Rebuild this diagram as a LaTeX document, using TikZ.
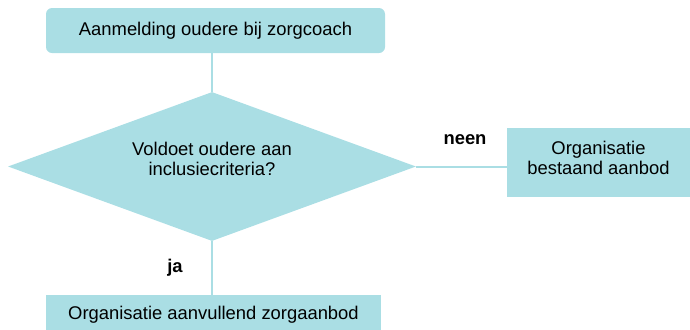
\documentclass[tikz,border=0pt]{standalone}
\usepackage{fontspec}
\setmainfont{Liberation Sans}
\usetikzlibrary{shapes.geometric}
\definecolor{boxblue}{RGB}{170,222,228}
\begin{document}
\begin{tikzpicture}[x=0.75pt,y=-0.75pt,
  every node/.style={font=\fontsize{13.8pt}{15pt}\selectfont},
  boxfill/.style={fill=boxblue,draw=none,inner sep=0pt,align=center},
  conn/.style={draw=boxblue,line width=1.5pt},
  txt/.style={inner sep=0pt,align=center},
  lbl/.style={font=\fontsize{13.8pt}{15pt}\selectfont\bfseries,inner sep=0pt}]
\useasboundingbox (0,0) rectangle (690,329);
\clip (0,0) rectangle (690,329);
\node[boxfill,rounded corners=4.5pt,minimum width=339*0.75pt,minimum height=45*0.75pt] (top) at (215.5,30.5) {Aanmelding oudere bij zorgcoach};
\node[diamond,boxfill,minimum width=408*0.75pt,minimum height=149*0.75pt] (dia) at (212,166.5) {};
\node[txt] (dtext) at (212,159) {Voldoet oudere aan\\inclusiecriteria?};
\node[boxfill,minimum width=183*0.75pt,minimum height=69*0.75pt] (right) at (598.5,162.5) {};
\node[txt] (rtext) at (598.5,158) {Organisatie\\bestaand aanbod};
\node[boxfill,minimum width=335*0.75pt,minimum height=40*0.75pt] (bot) at (213.5,315) {Organisatie aanvullend zorgaanbod};
\draw[conn] (dia.north |- top.south) -- (dia.north);
\draw[conn] (dia.east) -- (right.west |- dia.east);
\draw[conn] (dia.south) -- (dia.south |- bot.north);
\node[lbl] (neen) at (465,140) {neen};
\node[lbl] (ja) at (175,268) {ja};
\end{tikzpicture}
\end{document}
